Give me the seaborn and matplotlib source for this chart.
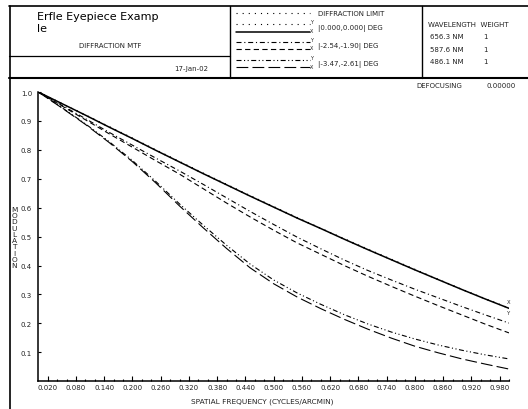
import numpy as np
import pandas as pd
import matplotlib
matplotlib.use("Agg")
import matplotlib.pyplot as plt
import seaborn as sns
from matplotlib.lines import Line2D

# ---------------- data ----------------
freq = [0.00, 0.05, 0.10, 0.15, 0.20, 0.25, 0.30, 0.35, 0.40, 0.45, 0.50,
        0.55, 0.60, 0.65, 0.70, 0.75, 0.80, 0.85, 0.90, 0.95, 1.00]

diffraction_limit = [1.000, 0.960, 0.921, 0.881, 0.841, 0.800, 0.760, 0.720, 0.681, 0.642, 0.604,
                     0.566, 0.529, 0.493, 0.457, 0.422, 0.387, 0.352, 0.318, 0.285, 0.253]
field1_y = [1.000, 0.960, 0.920, 0.879, 0.839, 0.798, 0.758, 0.718, 0.679, 0.640, 0.602,
            0.564, 0.528, 0.491, 0.455, 0.420, 0.385, 0.351, 0.317, 0.284, 0.252]
field1_x = [1.000, 0.960, 0.920, 0.879, 0.839, 0.798, 0.758, 0.718, 0.679, 0.640, 0.602,
            0.564, 0.528, 0.491, 0.455, 0.420, 0.385, 0.351, 0.317, 0.284, 0.252]
field2_y = [1.000, 0.954, 0.908, 0.861, 0.816, 0.771, 0.727, 0.681, 0.634, 0.587, 0.542,
            0.498, 0.458, 0.419, 0.383, 0.350, 0.318, 0.288, 0.258, 0.229, 0.201]
field2_x = [1.000, 0.952, 0.904, 0.856, 0.809, 0.762, 0.716, 0.666, 0.616, 0.568, 0.522,
            0.478, 0.439, 0.400, 0.363, 0.328, 0.294, 0.261, 0.229, 0.197, 0.167]
field3_y = [1.000, 0.946, 0.890, 0.829, 0.763, 0.690, 0.613, 0.540, 0.470, 0.405, 0.350,
            0.305, 0.266, 0.230, 0.198, 0.170, 0.146, 0.125, 0.107, 0.091, 0.077]
field3_x = [1.000, 0.945, 0.888, 0.826, 0.759, 0.685, 0.606, 0.531, 0.459, 0.392, 0.337,
            0.291, 0.251, 0.214, 0.180, 0.149, 0.121, 0.098, 0.077, 0.059, 0.042]

x_tick_values = [0.020, 0.080, 0.140, 0.200, 0.260, 0.320, 0.380, 0.440, 0.500,
                 0.560, 0.620, 0.680, 0.740, 0.800, 0.860, 0.920, 0.980]
x_minor_values = [0.04, 0.06, 0.10, 0.12, 0.16, 0.18, 0.22, 0.24, 0.28, 0.30, 0.34, 0.36,
                  0.40, 0.42, 0.46, 0.48, 0.52, 0.54, 0.58, 0.60, 0.64, 0.66, 0.70, 0.72,
                  0.76, 0.78, 0.82, 0.84, 0.88, 0.90, 0.94, 0.96, 1.00]
y_tick_values = [0.1, 0.2, 0.3, 0.4, 0.5, 0.6, 0.7, 0.8, 0.9, 1.0]

field_labels = ["|0.000,0.000| DEG", "|-2.54,-1.90| DEG", "|-3.47,-2.61| DEG"]
wavelengths = ["656.3 NM", "587.6 NM", "486.1 NM"]
weights = ["1", "1", "1"]

# ---------------- style ----------------
sns.set_theme(style="white")
plt.rcParams["font.family"] = ["DejaVu Sans"]
plt.rcParams["lines.scale_dashes"] = False

W, H = 528, 410
fig = plt.figure(figsize=(W / 100, H / 100), dpi=100)
fig.patch.set_facecolor("white")

def fx(px):
    return px / W

def fy(py):
    return 1 - py / H

ax = fig.add_axes([fx(38.3), 27.8 / H, 470.7 / W, 289.2 / H])
ax.set_facecolor("white")

DOT = (0, (0.8, 3.6))
DASHDOT = (0, (3.6, 2.0, 0.8, 2.0))
DASHED = (0, (3.8, 2.4))
DASHDOTDOT = (0, (3.6, 1.8, 0.8, 1.8, 0.8, 1.8))
LONGDASH = (0, (8.5, 3.0))

series = [
    ("diff", diffraction_limit, DOT, 0.8),
    ("f1y", field1_y, DOT, 0.8),
    ("f1x", field1_x, "-", 1.1),
    ("f2y", field2_y, DASHDOT, 0.8),
    ("f2x", field2_x, DASHED, 0.8),
    ("f3y", field3_y, DASHDOTDOT, 0.8),
    ("f3x", field3_x, LONGDASH, 0.8),
]

df = pd.DataFrame({"freq": freq})
for name, vals, ls, lw in series:
    df[name] = vals
    sns.lineplot(data=df, x="freq", y=name, ax=ax, color="black", linestyle=ls,
                 linewidth=lw, estimator=None, sort=False)

ax.set_xlim(0, 1.0)
ax.set_ylim(0, 1.0)
ax.set_xlabel("")
ax.set_ylabel("")
for s in ["top", "right"]:
    ax.spines[s].set_visible(False)
for s in ["left", "bottom"]:
    ax.spines[s].set_color("black")
    ax.spines[s].set_linewidth(1.1)

ax.set_xticks(x_tick_values)
ax.set_xticklabels([f"{v:.3f}" for v in x_tick_values])
ax.set_xticks(x_minor_values, minor=True)
ax.set_yticks(y_tick_values)
ax.set_yticklabels([f"{v:.1f}" for v in y_tick_values])
ax.tick_params(axis="x", which="major", direction="in", length=3.6, width=0.8,
               color="black", labelsize=5, pad=2, bottom=True)
ax.tick_params(axis="x", which="minor", direction="in", length=1.5, width=0.8,
               color="black", bottom=True)
ax.tick_params(axis="y", which="major", direction="in", length=1.8, width=0.8,
               color="black", labelsize=5, pad=4.5, left=True)
for lab in ax.get_xticklabels() + ax.get_yticklabels():
    lab.set_color("#222222")

# end-of-curve X / Y tags
ax.annotate("X", xy=(freq[-1], field1_x[-1]), xytext=(0, 3), textcoords="offset points",
            fontsize=3.8, ha="center", va="bottom", annotation_clip=False)
ax.annotate("Y", xy=(freq[-1], field1_x[-1]), xytext=(0, -1), textcoords="offset points",
            fontsize=3.8, ha="center", va="top", annotation_clip=False)

# axis titles
fig.text(fx(262), fy(401.5), "SPATIAL FREQUENCY (CYCLES/ARCMIN)", fontsize=5.3,
         ha="center", va="center", color="#222222")
fig.text(fx(14.5), fy(238), "\n".join("MODULATION"), fontsize=5.3, ha="center",
         va="center", linespacing=1.05, color="#222222")

# ---------------- frame / header ----------------
def hline(y, x0, x1, lw=1.0):
    fig.add_artist(Line2D([fx(x0), fx(x1)], [fy(y), fy(y)], color="black", lw=lw))

def vline(x, y0, y1, lw=1.0):
    fig.add_artist(Line2D([fx(x), fx(x)], [fy(y0), fy(y1)], color="black", lw=lw))

hline(6.8, 9.3, 530, lw=1.2)
vline(9.5, 6.8, 412, lw=1.2)
hline(56.8, 9.3, 230, lw=0.9)
hline(78.7, 9.3, 530, lw=1.5)
vline(230, 6.8, 78.7, lw=1.0)
vline(422, 6.8, 78.7, lw=1.0)

fig.text(fx(37), fy(12.5), "Erfle Eyepiece Examp\nle", fontsize=8, ha="left", va="top",
         linespacing=1.2, color="black")
fig.text(fx(110), fy(46), "DIFFRACTION MTF", fontsize=5, ha="center", va="center",
         color="#222222")
fig.text(fx(191.5), fy(69.5), "17-Jan-02", fontsize=5, ha="center", va="center",
         color="#222222")

# legend (header lines)
def legline(y, ls, lw=0.8):
    fig.add_artist(Line2D([fx(236), fx(310)], [fy(y), fy(y)], color="black", lw=lw,
                          linestyle=ls))

legline(14, DOT)
fig.text(fx(318.5), fy(14), "DIFFRACTION LIMIT", fontsize=5, va="center", color="#222222")
row_lines = [(25, DOT, 32.5, "-"), (42.5, DASHDOT, 50, DASHED), (61, DASHDOTDOT, 68.3, LONGDASH)]
for (yu, lsu, yl, lsl), lbl in zip(row_lines, field_labels):
    legline(yu, lsu)
    legline(yl, lsl, lw=1.1 if lsl == "-" else 0.8)
    fig.text(fx(311.5), fy(yu + 0.5), "Y", fontsize=3.5, ha="center", va="bottom")
    fig.text(fx(311.5), fy(yl + 1.5), "X", fontsize=3.5, ha="center", va="bottom")
    fig.text(fx(318.5), fy((yu + yl) / 2), lbl, fontsize=5, va="center", color="#222222")

fig.text(fx(427.5), fy(25), "WAVELENGTH  WEIGHT", fontsize=5, va="center", color="#222222")
for i, (wl, wt) in enumerate(zip(wavelengths, weights)):
    yy = 37.3 + 12.2 * i
    fig.text(fx(429.5), fy(yy), wl, fontsize=5, va="center", color="#222222")
    fig.text(fx(483), fy(yy), wt, fontsize=5, va="center", color="#222222")

fig.text(fx(416.5), fy(86), "DEFOCUSING", fontsize=5, va="center", color="#222222")
fig.text(fx(516), fy(86), "0.00000", fontsize=5, va="center", ha="right", color="#222222")

fig.savefig("out.png", dpi=100, facecolor="white")
